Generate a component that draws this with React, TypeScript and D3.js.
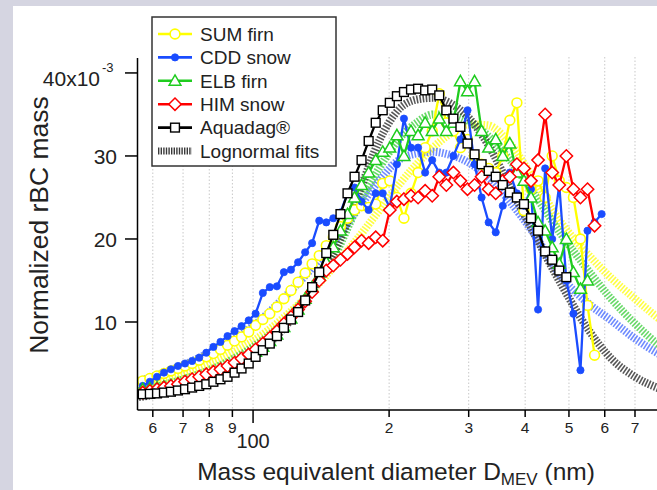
import React, { useEffect } from 'react';
import * as d3 from 'd3';

// ---------- data ----------
const diameters = [57.0, 59.1, 61.3, 63.5, 65.8, 68.2, 70.7, 73.3, 76.0, 78.8, 81.7, 84.7, 87.8, 91.0, 94.3, 97.8, 101.3, 105.1, 108.9, 112.9, 117.0, 121.3, 125.8, 130.4, 135.1, 140.1, 145.2, 150.5, 156.1, 161.8, 167.7, 173.8, 180.2, 186.8, 193.6, 200.7, 208.1, 215.7, 223.6, 231.8, 240.3, 249.1, 258.2, 267.7, 277.5, 287.6, 298.2, 309.1, 320.4, 332.1, 344.3, 356.9, 370.0, 383.5, 397.6, 412.1, 427.2, 442.9, 459.1, 475.9, 493.4, 511.5, 530.2, 549.6, 569.7, 590.6];

const sumFirn = [2.9, 3.2, 3.5, 3.8, 4.1, 4.4, 4.7, 5.0, 5.4, 5.8, 6.2, 6.7, 7.2, 7.7, 8.2, 8.8, 9.6, 10.3, 11.0, 11.8, 12.8, 13.8, 14.8, 15.9, 17.0, 18.0, 19.2, 20.2, 21.5, 22.5, 23.5, 24.0, 23.8, 24.2, 26.7, 27.0, 25.0, 22.5, 25.5, 28.0, 31.0, 33.0, 37.5, 34.0, 33.0, 31.0, 32.0, 30.0, 29.0, 28.5, 28.0, 30.0, 34.3, 36.4, 23.4, 26.0, 27.0, 25.0, 30.0, 27.0, 26.2, 25.0, 20.0, 12.0, 6.0];

const cddSnow = [2.3, 2.8, 3.4, 3.9, 4.3, 4.7, 5.0, 5.3, 5.7, 6.3, 7.0, 7.6, 8.3, 8.9, 9.5, 10.2, 11.0, 13.5, 14.2, 14.3, 16.0, 16.3, 17.2, 18.4, 19.5, 22.2, 22.0, 22.5, 23.2, 25.5, 26.2, 24.5, 23.5, 25.5, 25.5, 23.8, 29.0, 34.5, 31.0, 31.0, 28.0, 29.5, 28.0, 28.0, 30.0, 32.0, 35.5, 29.0, 25.0, 22.0, 20.8, 24.0, 28.0, 25.5, 24.0, 26.0, 11.5, 28.5, 20.0, 26.5, 15.0, 11.0, 4.2, 21.0, 22.0, 23.0];

const elbFirn = [1.9, 2.0, 2.1, 2.2, 2.4, 2.6, 2.8, 3.0, 3.2, 3.5, 3.8, 4.1, 4.5, 4.9, 5.3, 5.8, 6.4, 7.0, 7.7, 8.5, 9.4, 10.4, 11.5, 12.8, 14.2, 15.6, 17.2, 19.0, 21.0, 23.0, 25.0, 26.5, 28.0, 29.5, 30.5, 31.0, 32.5, 30.0, 33.0, 32.5, 34.0, 33.0, 34.5, 33.0, 34.0, 39.0, 37.8, 39.0, 33.0, 31.0, 32.0, 30.0, 31.5, 28.0, 27.0, 25.0, 22.0, 21.0, 19.0, 17.0, 20.0, 16.0, 14.0, 15.0];

const himSnow = [1.5, 1.7, 1.9, 2.1, 2.3, 2.5, 2.8, 3.1, 3.4, 3.7, 4.0, 4.3, 4.7, 5.1, 5.6, 6.1, 6.7, 7.4, 8.1, 8.9, 9.8, 10.6, 11.5, 12.5, 13.6, 15.0, 16.2, 16.8, 17.5, 18.2, 19.0, 19.8, 19.5, 20.2, 19.8, 23.5, 24.5, 24.8, 25.2, 25.0, 25.8, 25.2, 27.5, 26.5, 28.0, 27.0, 26.0, 26.5, 27.5, 26.0, 25.5, 27.0, 27.5, 29.0, 28.5, 27.0, 29.5, 35.0, 28.0, 26.5, 30.0, 26.0, 25.0, 26.0, 21.6];

const aquadag = [1.3, 1.35, 1.4, 1.5, 1.6, 1.75, 1.9, 2.1, 2.3, 2.5, 2.8, 3.1, 3.4, 3.9, 4.4, 5.0, 5.8, 6.6, 7.4, 8.3, 9.3, 10.3, 11.2, 12.6, 14.2, 16.0, 18.3, 20.5, 23.0, 25.5, 27.5, 29.5, 31.8, 34.0, 35.5, 36.4, 37.2, 37.7, 38.0, 38.1, 37.9, 38.0, 37.3, 35.5, 34.5, 33.5, 31.5, 30.2, 29.0, 28.2, 27.5, 26.5, 25.6, 25.0, 24.2, 22.5, 21.0, 18.5, 17.5, 16.2, 15.4];

// lognormal fit curves
const fitDiameters = [55, 60, 70, 80, 90, 100, 115, 130, 150, 170, 190, 210, 230, 250, 270, 300, 330, 370, 420, 480, 550, 620, 700, 800, 900, 1000];
const fitSum = [2.2, 2.8, 3.9, 5.0, 6.3, 7.7, 10.2, 12.8, 16.5, 20.0, 23.4, 26.5, 29.0, 31.0, 32.5, 33.8, 33.7, 31.5, 27.0, 22.0, 18.2, 15.3, 12.8, 10.2, 8.3, 6.7];
const fitCdd = [2.8, 3.4, 4.8, 6.3, 7.8, 9.5, 12.5, 15.5, 19.5, 23.5, 27.0, 29.5, 30.3, 30.5, 30.2, 29.2, 27.5, 24.5, 20.5, 15.5, 12.3, 10.2, 8.0, 6.0, 4.6, 3.5];
const fitElb = [1.6, 2.1, 3.1, 4.2, 5.5, 7.0, 9.6, 12.8, 17.5, 23.8, 28.5, 32.0, 34.0, 35.0, 35.0, 34.2, 32.5, 29.5, 25.3, 20.6, 16.3, 12.8, 9.8, 7.0, 5.2, 3.9];
const fitAquadag = [0.9, 1.2, 1.9, 2.9, 4.2, 5.8, 8.8, 12.5, 18.0, 25.0, 31.8, 35.6, 36.8, 37.0, 36.5, 34.6, 31.5, 26.3, 20.5, 14.6, 9.2, 5.6, 3.4, 1.9, 1.1, 0.6];

const seriesNames = ['SUM firn', 'CDD snow', 'ELB firn', 'HIM snow', 'Aquadag®'];
const seriesColors = ['#ffff00', '#1a4cff', '#1fcc1f', '#ff0000', '#000000'];
const seriesMarkers = ['circle', 'dot', 'triangle', 'diamond', 'square'];
const fitColors = ['#ffff22', '#5577ff', '#4fd24f', '#3a3a3a'];

const yTicks = [10, 20, 30, 40];
const xMinorTicks = [60, 70, 80, 90, 200, 300, 400, 500, 600, 700, 800, 900];
const xMajorTicks = [100];

const W = 657;
const H = 490;
const FONT = 'Arial, "Liberation Sans", Helvetica, sans-serif';

function Marker({ kind, cx, cy, color }: { kind: string; cx: number; cy: number; color: string }) {
  if (kind === 'circle') return <circle cx={cx} cy={cy} r={4.9} fill="#fff" stroke={color} strokeWidth={1.6} />;
  if (kind === 'dot') return <circle cx={cx} cy={cy} r={3.6} fill={color} stroke={color} strokeWidth={0.8} />;
  if (kind === 'triangle') {
    const s = 5.9;
    return <path d={`M${cx},${cy - s}L${cx + s},${cy + s * 0.75}L${cx - s},${cy + s * 0.75}Z`} fill="#fff" stroke={color} strokeWidth={1.5} />;
  }
  if (kind === 'diamond') {
    const s = 6.2;
    return <path d={`M${cx},${cy - s}L${cx + s},${cy}L${cx},${cy + s}L${cx - s},${cy}Z`} fill="#fff" stroke={color} strokeWidth={1.5} />;
  }
  return <rect x={cx - 4.4} y={cy - 4.4} width={8.8} height={8.8} fill="#fff" stroke={color} strokeWidth={1.4} />;
}

export default function App() {
  useEffect(() => {
    document.body.style.margin = '0';
  }, []);

  const x = d3.scaleLog().domain([55.5, 1000]).range([137.5, 705]);
  const y = d3.scaleLinear().domain([-0.6, 41.8]).range([410, 58]);

  const dataSeries = [sumFirn, cddSnow, elbFirn, himSnow, aquadag];
  const fits = [fitSum, fitCdd, fitElb, fitAquadag];

  const dataLine = d3
    .line<number>()
    .x((_, i) => x(diameters[i]))
    .y((v) => y(v));
  const fitLine = d3
    .line<number>()
    .x((_, i) => x(fitDiameters[i]))
    .y((v) => y(v))
    .curve(d3.curveMonotoneX);

  const gridTicks = [...xMinorTicks, ...xMajorTicks];
  const legendY0 = 34;
  const legendDy = 23.4;

  return (
    <svg width={W} height={H} style={{ display: 'block', position: 'absolute', left: 0, top: 0 }} fontFamily={FONT}>
      <defs>
        <clipPath id="plotClip">
          <rect x={137.5} y={50} width={W} height={360} />
        </clipPath>
      </defs>
      <rect x={0} y={0} width={W} height={H} fill="#d5d5e1" />
      <rect x={13} y={6} width={W - 13} height={H - 6} fill="#ffffff" />

      {/* grid */}
      {gridTicks.map((t) => (
        <line key={'g' + t} x1={x(t)} x2={x(t)} y1={57} y2={410} stroke="#c8c8c8" strokeWidth={1} strokeDasharray="1.5,2" />
      ))}

      {/* fits */}
      <g clipPath="url(#plotClip)">
        {fits.map((f, k) => (
          <path key={'f' + k} d={fitLine(f) || ''} fill="none" stroke={fitColors[k]} strokeWidth={8} strokeDasharray="1.6,1.5" opacity={0.85} />
        ))}
      </g>

      {/* data */}
      <g clipPath="url(#plotClip)">
        {dataSeries.map((s, k) => (
          <g key={'s' + k}>
            <path d={dataLine(s) || ''} fill="none" stroke={seriesColors[k]} strokeWidth={2.3} strokeLinejoin="round" />
            {s.map((v, i) => (
              <Marker key={i} kind={seriesMarkers[k]} cx={x(diameters[i])} cy={y(v)} color={seriesColors[k]} />
            ))}
          </g>
        ))}
      </g>

      {/* axes */}
      <line x1={137.5} x2={137.5} y1={58} y2={410} stroke="#000" strokeWidth={1.5} />
      <line x1={137.5} x2={W} y1={410} y2={410} stroke="#000" strokeWidth={1.5} />
      {yTicks.map((t) => (
        <g key={'y' + t}>
          <line x1={125} x2={137.5} y1={y(t)} y2={y(t)} stroke="#000" strokeWidth={1.5} />
          {t === 40 ? (
            <text x={100} y={y(t) + 5.5} dy="0.36em" fontSize={21} textAnchor="end" fill="#222">
              40x10
            </text>
          ) : (
            <text x={117} y={y(t)} dy="0.36em" fontSize={21} textAnchor="end" fill="#222">
              {t}
            </text>
          )}
        </g>
      ))}
      <text x={102} y={y(40) - 1} fontSize={13} fill="#222">-3</text>

      {xMinorTicks.map((t) => (
        <g key={'xm' + t}>
          <line x1={x(t)} x2={x(t)} y1={410} y2={417} stroke="#000" strokeWidth={1.5} />
          {x(t) < W - 8 && (
            <text x={x(t)} y={427} dy="0.36em" fontSize={15.5} textAnchor="middle" fill="#222">
              {String(t).charAt(0)}
            </text>
          )}
        </g>
      ))}
      {xMajorTicks.map((t) => (
        <g key={'xM' + t}>
          <line x1={x(t)} x2={x(t)} y1={410} y2={423} stroke="#000" strokeWidth={1.5} />
          <text x={x(t)} y={441} dy="0.36em" fontSize={20} textAnchor="middle" fill="#222">
            {t}
          </text>
        </g>
      ))}

      {/* axis titles */}
      <text x={396} y={480} fontSize={24.5} textAnchor="middle" fill="#222">
        Mass equivalent diameter D<tspan fontSize={17} dy={5}>MEV</tspan>
        <tspan dy={-5}> (nm)</tspan>
      </text>
      <text transform={`translate(48,225) rotate(-90)`} fontSize={26.5} textAnchor="middle" fill="#222">
        Normalized rBC mass
      </text>

      {/* legend */}
      <rect x={152} y={17} width={184} height={149} fill="#fff" stroke="#333" strokeWidth={1.5} />
      {seriesNames.map((n, k) => {
        const ly = legendY0 + k * legendDy;
        return (
          <g key={'l' + k}>
            <line x1={158} x2={192} y1={ly} y2={ly} stroke={seriesColors[k]} strokeWidth={2.6} />
            <Marker kind={seriesMarkers[k]} cx={175} cy={ly} color={seriesColors[k]} />
            <text x={200} y={ly} dy="0.36em" fontSize={19} fill="#222">
              {n}
            </text>
          </g>
        );
      })}
      <line x1={158} x2={192} y1={legendY0 + 5 * legendDy} y2={legendY0 + 5 * legendDy} stroke="#3a3a3a" strokeWidth={7} strokeDasharray="1.4,1.2" />
      <text x={200} y={legendY0 + 5 * legendDy} dy="0.36em" fontSize={19} fill="#222">
        Lognormal fits
      </text>
    </svg>
  );
}
